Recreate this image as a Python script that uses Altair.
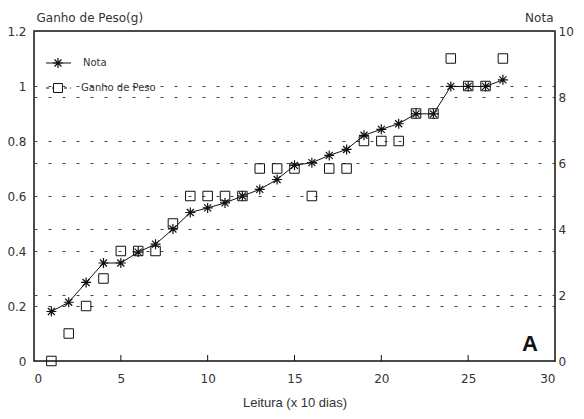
import altair as alt
import pandas as pd

# ---- data ----
leitura = list(range(1, 28))
ganho_peso = [0.0, 0.1, 0.2, 0.3, 0.4, 0.4, 0.4, 0.5, 0.6, 0.6, 0.6, 0.6, 0.7, 0.7,
              0.7, 0.6, 0.7, 0.7, 0.8, 0.8, 0.8, 0.9, 0.9, 1.1, 1.0, 1.0, 1.1]
nota = [1.5, 1.78, 2.38, 2.97, 2.97, 3.3, 3.54, 4.0, 4.5, 4.64, 4.79, 5.0, 5.2, 5.5,
        5.93, 6.01, 6.23, 6.41, 6.84, 7.02, 7.19, 7.49, 7.49, 8.32, 8.32, 8.32, 8.52]

x_ticks = [0, 5, 10, 15, 20, 25, 30]
x_inner_ticks = [5, 10, 15, 20, 25]
left_ticks = [0, 0.2, 0.4, 0.6, 0.8, 1.0, 1.2]
right_ticks = [0, 2, 4, 6, 8, 10]
legend_labels = ["Nota", "Ganho de Peso"]
panel_label = ["A"]

df = pd.DataFrame({"leitura": leitura, "ganho": ganho_peso, "nota": nota})

STAR = "M-1,0L1,0M0,-1L0,1M-0.7,-0.7L0.7,0.7M-0.7,0.7L0.7,-0.7"
INK = "#111111"
TXT = "#333333"
FONT = "DejaVu Sans"
W, H = 521, 330

x_enc = alt.X(
    "leitura:Q",
    scale=alt.Scale(domain=[0, 30], nice=False),
    axis=alt.Axis(values=x_ticks, title="Leitura (x 10 dias)", grid=False, ticks=False,
                  domain=False, labelPadding=12, labelFont=FONT, labelFontSize=12,
                  labelColor=TXT, titleFont="Liberation Sans", titleFontSize=13,
                  titleFontWeight="normal", titleColor=TXT, titleY=45,
                  titleBaseline="alphabetic"),
)

y_left = alt.Y(
    "ganho:Q",
    scale=alt.Scale(domain=[0, 1.2], nice=False),
    axis=alt.Axis(orient="left", values=left_ticks, format="~g", title="Ganho de Peso(g)",
                  titleAngle=0, titleX=2, titleY=-10, titleAlign="left",
                  titleBaseline="alphabetic", titleFont=FONT, titleFontSize=12,
                  titleFontWeight="normal", titleColor=TXT,
                  grid=True, gridDash=[3, 11], gridColor="#444444", gridWidth=1,
                  ticks=False, domain=False, labelPadding=8, labelFont=FONT,
                  labelFontSize=12, labelColor=TXT),
)

y_right = alt.Y(
    "nota:Q",
    scale=alt.Scale(domain=[0, 10], nice=False),
    axis=alt.Axis(orient="right", values=right_ticks, format="d", title="Nota",
                  titleAngle=0, titleX=-2, titleY=-10, titleAlign="right",
                  titleBaseline="alphabetic", titleFont=FONT, titleFontSize=12,
                  titleFontWeight="normal", titleColor=TXT,
                  grid=True, gridDash=[3, 11], gridColor="#444444", gridWidth=1,
                  ticks=False, domain=False, labelPadding=3, labelFont=FONT,
                  labelFontSize=12, labelColor=TXT),
)

squares = alt.Chart(df).mark_point(shape="square", filled=False, size=90, stroke=INK,
                                   strokeWidth=1, opacity=1).encode(x=x_enc, y=y_left)

nota_line = alt.Chart(df).mark_line(color=INK, strokeWidth=1).encode(x=x_enc, y=y_right)
nota_pts = alt.Chart(df).mark_point(shape=STAR, filled=False, size=100, stroke=INK,
                                    strokeWidth=1.2, opacity=1).encode(x=x_enc, y=y_right)

left = alt.layer(squares)
right = alt.layer(nota_line, nota_pts)

# inward ticks on the bottom axis
tick_df = pd.DataFrame({"leitura": x_inner_ticks})
bottom_ticks = alt.Chart(tick_df).mark_rule(color=INK, strokeWidth=1).encode(
    x=x_enc, y=alt.value(H), y2=alt.value(H - 6))

# manual legend
one = pd.DataFrame({"k": [0]})
leg_rule1 = alt.Chart(one).mark_rule(color=INK, strokeWidth=1).encode(
    x=alt.value(12), x2=alt.value(37), y=alt.value(32))
leg_star = alt.Chart(one).mark_point(shape=STAR, filled=False, size=100, stroke=INK,
                                     strokeWidth=1.2, opacity=1).encode(
    x=alt.value(24), y=alt.value(32))
leg_rule2 = alt.Chart(one).mark_rule(color=INK, strokeWidth=1, strokeDash=[3, 3]).encode(
    x=alt.value(12), x2=alt.value(37), y=alt.value(57))
leg_sq = alt.Chart(one).mark_point(shape="square", filled=True, fill="white", size=80,
                                   stroke=INK, strokeWidth=1, opacity=1).encode(
    x=alt.value(24), y=alt.value(57))
leg_t1 = alt.Chart(pd.DataFrame({"t": [legend_labels[0]]})).mark_text(
    align="left", baseline="middle", font=FONT, fontSize=10, color=TXT).encode(
    text="t:N", x=alt.value(49), y=alt.value(32))
leg_t2 = alt.Chart(pd.DataFrame({"t": [legend_labels[1]]})).mark_text(
    align="left", baseline="middle", font=FONT, fontSize=10, color=TXT).encode(
    text="t:N", x=alt.value(47), y=alt.value(57))

label_a = alt.Chart(pd.DataFrame({"t": panel_label})).mark_text(
    align="left", baseline="alphabetic", font="Liberation Sans", fontSize=22,
    fontWeight="bold", color=INK).encode(text="t:N", x=alt.value(W - 33), y=alt.value(H - 10))

chart = alt.layer(
    left, right, bottom_ticks, leg_rule1, leg_rule2, leg_star, leg_sq, leg_t1, leg_t2, label_a
).resolve_scale(y="independent").properties(
    width=W, height=H,
    autosize=alt.AutoSizeParams(type="none"),
    padding={"left": 26, "top": 23, "right": 21, "bottom": 50},
    background="white",
).configure_view(stroke=INK, strokeWidth=1.5)

chart.save("out.html", embed_options={"renderer": "svg", "actions": False})
